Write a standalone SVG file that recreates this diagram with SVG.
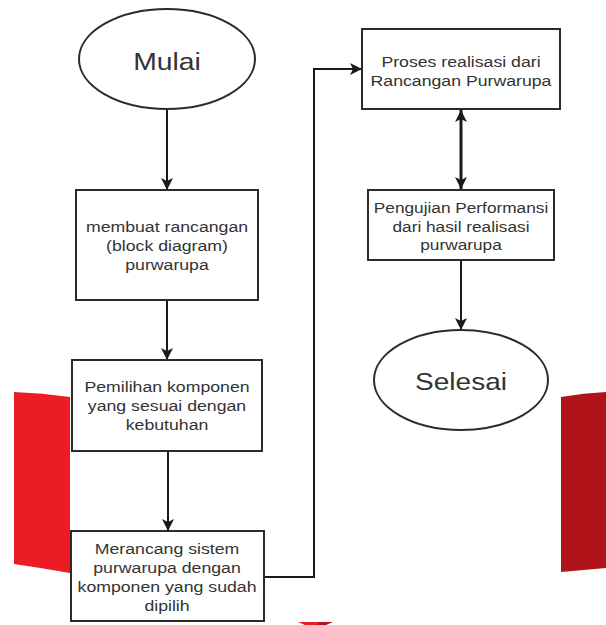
<svg xmlns="http://www.w3.org/2000/svg" width="606" height="625" viewBox="0 0 606 625">
<style>
.bg{fill:#fff}
.node{fill:#fff;stroke:#2b2b2b;stroke-width:2}
.t{font-family:"Liberation Sans",Arial,sans-serif;font-size:15px;fill:#333;text-anchor:middle}
.big{font-size:24px}
.conn{fill:none;stroke:#1a1a1a;stroke-width:2}
.thick{stroke-width:3}
</style>
<defs>
<marker id="ah" markerUnits="userSpaceOnUse" markerWidth="12" markerHeight="12" viewBox="0 0 12 12" refX="12" refY="6" orient="auto-start-reverse">
<path d="M0,0 L12,6 L0,12 L3,6 Z" fill="#1a1a1a"/>
</marker>
</defs>
<rect class="bg" width="606" height="625"/>
<g id="decor">
<path d="M14,392 Q42,393 70,397 L70,573 Q42,568 14,564 Z" fill="#ec1c24"/>
<path d="M561,397 Q584,393 606,392 L606,568 Q584,570 561,572 Z" fill="#b0131a"/>
<path d="M298,622 L318,622 L318,625 L305,625 Z" fill="#ec1c24"/>
<path d="M318,622 L333,622 L326,625 L318,625 Z" fill="#b0131a"/>
</g>
<g id="connectors">
<path class="conn" d="M167,109 L167,190" marker-end="url(#ah)"/>
<path class="conn" d="M167,300 L167,360" marker-end="url(#ah)"/>
<path class="conn" d="M168,451 L168,531" marker-end="url(#ah)"/>
<path class="conn" d="M264,577 L314,577 L314,69 L362,69" marker-end="url(#ah)"/>
<path class="conn thick" d="M461,110 L461,189" marker-start="url(#ah)" marker-end="url(#ah)"/>
<path class="conn" d="M461,260 L461,330" marker-end="url(#ah)"/>
</g>
<g id="mulai">
<ellipse class="node" cx="167" cy="59" rx="88" ry="50"/>
<text class="t big" transform="translate(167,70) scale(1.18,1)">Mulai</text>
</g>
<g id="membuat">
<rect class="node" x="76" y="190" width="182" height="110"/>
<text class="t" transform="translate(167,232) scale(1.18,1)">membuat rancangan</text>
<text class="t" transform="translate(167,251) scale(1.18,1)">(block diagram)</text>
<text class="t" transform="translate(167,270) scale(1.18,1)">purwarupa</text>
</g>
<g id="pemilihan">
<rect class="node" x="72" y="360" width="190" height="91"/>
<text class="t" transform="translate(167,392) scale(1.18,1)">Pemilihan komponen</text>
<text class="t" transform="translate(167,411) scale(1.18,1)">yang sesuai dengan</text>
<text class="t" transform="translate(167,430) scale(1.18,1)">kebutuhan</text>
</g>
<g id="merancang">
<rect class="node" x="71" y="531" width="193" height="90"/>
<text class="t" transform="translate(167,554) scale(1.18,1)">Merancang sistem</text>
<text class="t" transform="translate(167,573) scale(1.18,1)">purwarupa dengan</text>
<text class="t" transform="translate(167,592) scale(1.18,1)">komponen yang sudah</text>
<text class="t" transform="translate(167,611) scale(1.18,1)">dipilih</text>
</g>
<g id="proses">
<rect class="node" x="362" y="29" width="198" height="80"/>
<text class="t" transform="translate(461,67) scale(1.18,1)">Proses realisasi dari</text>
<text class="t" transform="translate(461,86) scale(1.18,1)">Rancangan Purwarupa</text>
</g>
<g id="pengujian">
<rect class="node" x="368" y="190" width="186" height="70"/>
<text class="t" transform="translate(461,213) scale(1.15,1)">Pengujian Performansi</text>
<text class="t" transform="translate(461,232) scale(1.15,1)">dari hasil realisasi</text>
<text class="t" transform="translate(461,250) scale(1.15,1)">purwarupa</text>
</g>
<g id="selesai">
<ellipse class="node" cx="461" cy="380" rx="87" ry="50"/>
<text class="t big" transform="translate(461,390) scale(1.17,1)">Selesai</text>
</g>
</svg>
